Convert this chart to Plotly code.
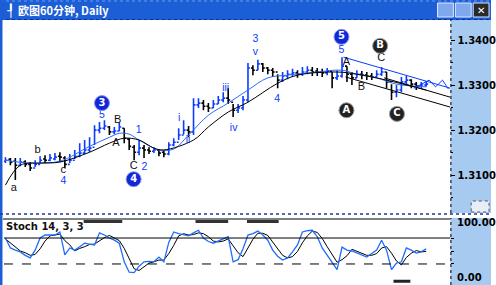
import plotly.graph_objects as go

# ---------------- data ----------------
bar_idx = list(range(86))
opens = [1.3131,1.3135,1.3131,1.3122,1.3129,1.3124,1.3116,1.3124,1.3136,1.3133,
         1.3136,1.3142,1.3138,1.3124,1.3133,1.3142,1.3149,1.3156,1.3162,1.3200,
         1.3204,1.3207,1.3196,1.3198,1.3204,1.3180,1.3162,1.3151,1.3160,1.3156,
         1.3153,1.3156,1.3151,1.3147,1.3167,1.3173,1.3189,1.3200,1.3196,1.3256,
         1.3260,1.3253,1.3249,1.3258,1.3267,1.3271,1.3262,1.3244,1.3249,1.3267,
         1.3338,1.3333,1.3347,1.3338,1.3333,1.3329,1.3311,1.3320,1.3324,1.3327,
         1.3324,1.3329,1.3333,1.3331,1.3329,1.3327,1.3331,1.3316,1.3320,1.3342,
         1.3324,1.3316,1.3324,1.3322,1.3320,1.3318,1.3324,1.3329,1.3307,1.3284,
         1.3289,1.3307,1.3311,1.3302,1.3298,1.3300]
highs = [1.3140,1.3138,1.3138,1.3138,1.3133,1.3129,1.3133,1.3142,1.3144,1.3147,
         1.3149,1.3151,1.3142,1.3147,1.3156,1.3171,1.3178,1.3184,1.3211,1.3218,
         1.3222,1.3209,1.3207,1.3218,1.3204,1.3182,1.3167,1.3178,1.3167,1.3162,
         1.3162,1.3158,1.3156,1.3173,1.3182,1.3204,1.3222,1.3209,1.3271,1.3271,
         1.3267,1.3260,1.3267,1.3276,1.3284,1.3293,1.3258,1.3258,1.3276,1.3349,
         1.3344,1.3356,1.3349,1.3340,1.3338,1.3324,1.3329,1.3333,1.3336,1.3333,
         1.3340,1.3342,1.3340,1.3338,1.3336,1.3338,1.3329,1.3333,1.3362,1.3342,
         1.3329,1.3333,1.3331,1.3329,1.3327,1.3333,1.3340,1.3329,1.3302,1.3300,
         1.3318,1.3320,1.3313,1.3307,1.3307,1.3309]
lows = [1.3127,1.3122,1.3089,1.3120,1.3118,1.3109,1.3118,1.3127,1.3127,1.3131,
        1.3133,1.3129,1.3116,1.3127,1.3136,1.3140,1.3147,1.3151,1.3167,1.3193,
        1.3200,1.3189,1.3191,1.3198,1.3171,1.3156,1.3133,1.3144,1.3138,1.3147,
        1.3149,1.3142,1.3140,1.3144,1.3164,1.3178,1.3191,1.3184,1.3189,1.3249,
        1.3244,1.3240,1.3249,1.3258,1.3262,1.3258,1.3229,1.3238,1.3244,1.3262,
        1.3322,1.3333,1.3329,1.3324,1.3318,1.3293,1.3307,1.3313,1.3318,1.3316,
        1.3320,1.3324,1.3320,1.3320,1.3318,1.3322,1.3293,1.3311,1.3316,1.3307,
        1.3300,1.3316,1.3313,1.3311,1.3311,1.3316,1.3320,1.3293,1.3267,1.3273,
        1.3284,1.3300,1.3293,1.3289,1.3293,1.3296]
closes = [1.3133,1.3129,1.3122,1.3129,1.3124,1.3116,1.3124,1.3133,1.3133,1.3138,
          1.3140,1.3140,1.3124,1.3133,1.3142,1.3149,1.3156,1.3160,1.3200,1.3204,
          1.3209,1.3196,1.3198,1.3207,1.3182,1.3164,1.3151,1.3160,1.3156,1.3153,
          1.3156,1.3149,1.3147,1.3167,1.3173,1.3189,1.3200,1.3196,1.3256,1.3260,
          1.3253,1.3249,1.3258,1.3267,1.3271,1.3267,1.3244,1.3249,1.3267,1.3338,
          1.3333,1.3347,1.3338,1.3333,1.3329,1.3311,1.3320,1.3324,1.3327,1.3324,
          1.3329,1.3333,1.3329,1.3329,1.3327,1.3331,1.3316,1.3320,1.3342,1.3324,
          1.3316,1.3324,1.3322,1.3320,1.3318,1.3324,1.3329,1.3307,1.3284,1.3289,
          1.3307,1.3311,1.3302,1.3298,1.3300,1.3302]

ma_fast_x = [0,5,11,17,21,23,25,27,31,34,37,41,45,49,53,57,63,68,71,75,79,85]
ma_fast_y = [1.3133,1.3127,1.3131,1.3164,1.3184,1.3193,1.3191,1.3178,1.3156,1.3158,
             1.3189,1.3233,1.3260,1.3289,1.3316,1.3322,1.3329,1.3333,1.3324,1.3316,
             1.3302,1.3296]
ma_slow_x = [0,3,7,11,17,21,24,27,30,32,38,41,45,49,55,59,67,71,77,85]
ma_slow_y = [1.3078,1.3122,1.3127,1.3129,1.3151,1.3171,1.3182,1.3178,1.3160,1.3156,
             1.3178,1.3207,1.3240,1.3262,1.3304,1.3322,1.3329,1.3324,1.3311,1.3289]

trend_upper_x = [68.3, 89.9]; trend_upper_y = [1.3362, 1.3293]
trend_lower_x = [68.7, 89.9]; trend_lower_y = [1.3318, 1.3251]
trend_mid_x = [76.5, 89.9];   trend_mid_y = [1.3316, 1.3273]
zigzag_x = [82.5, 85.6, 86.9, 88.3, 89.5]
zigzag_y = [1.3293, 1.3311, 1.3296, 1.3311, 1.3291]

blue_lbl_text = ["5","4","1","2","i","ii","iii","iv","3","v","4","5"]
blue_lbl_x = [19.5,11.7,26.9,28.1,35.1,36.9,44.5,46.1,50.5,50.5,54.9,67.9]
blue_lbl_y = [1.3233,1.3087,1.3200,1.3118,1.3227,1.3178,1.3293,1.3204,1.3402,1.3372,1.3269,1.3378]
black_lbl_text = ["a","b","c","B","A","C","A","B","C"]
black_lbl_x = [1.7,6.5,11.7,22.7,22.3,25.9,68.9,71.9,75.9]
black_lbl_y = [1.3071,1.3156,1.3111,1.3222,1.3171,1.3120,1.3351,1.3296,1.3360]
circ_blue_text = ["3","4","5"]
circ_blue_x = [19.5,25.9,67.9]
circ_blue_y = [1.3260,1.3091,1.3407]
circ_black_text = ["A","B","C"]
circ_black_x = [68.9,75.7,79.1]
circ_black_y = [1.3244,1.3387,1.3236]

stoch_k = [80,57,52,48,40,34,52,80,87,87,87,94,41,57,52,60,68,66,64,92,
           87,80,75,68,25,1,0,15,25,26,25,36,25,70,94,90,87,85,92,98,
           80,72,68,73,78,83,25,30,55,87,90,96,87,75,52,38,29,34,48,64,
           94,97,98,83,57,41,25,7,59,52,50,45,40,36,44,52,75,52,7,22,
           25,57,52,45,48,55]
stoch_d = [78,68,58,50,46,40,42,55,73,85,87,89,74,64,50,56,60,65,66,74,
           81,86,80,74,56,31,9,5,13,22,25,29,29,44,63,85,90,87,88,92,
           90,83,73,71,73,78,62,46,37,57,77,91,91,86,71,55,40,34,37,49,
           69,85,96,93,79,60,41,24,30,39,54,49,45,40,40,44,57,60,45,27,
           18,35,45,51,48,49]
ob_marks = [(15.8, 23.6), (38.4, 45.0), (48.8, 55.2)]
os_marks = [(78.4, 81.8)]

price_ticks = [1.31, 1.32, 1.33, 1.34]
price_tick_text = ["1.3100", "1.3200", "1.3300", "1.3400"]

# ---------------- figure ----------------
W, H = 496, 285
def px(x): return x / W
def py(y): return 1 - y / H

BLUE = "#0a3cff"
fig = go.Figure()
fig.add_trace(go.Ohlc(x=bar_idx, open=opens, high=highs, low=lows, close=closes,
                      increasing=dict(line=dict(color=BLUE, width=1.6)),
                      decreasing=dict(line=dict(color="#000000", width=1.6)),
                      tickwidth=0.4, xaxis="x", yaxis="y", showlegend=False, hoverinfo="skip"))
fig.add_trace(go.Scatter(x=ma_fast_x, y=ma_fast_y, mode="lines", line=dict(color="#2a6cff", width=1),
                         line_shape="spline", xaxis="x", yaxis="y", showlegend=False))
fig.add_trace(go.Scatter(x=ma_slow_x, y=ma_slow_y, mode="lines", line=dict(color="#000000", width=1),
                         line_shape="spline", xaxis="x", yaxis="y", showlegend=False))
for tx, ty, c in [(trend_upper_x, trend_upper_y, BLUE), (trend_lower_x, trend_lower_y, "#000"),
                  (trend_mid_x, trend_mid_y, "#000"), (zigzag_x, zigzag_y, BLUE)]:
    fig.add_trace(go.Scatter(x=tx, y=ty, mode="lines", line=dict(color=c, width=1),
                             xaxis="x", yaxis="y", showlegend=False))

fig.add_trace(go.Scatter(x=blue_lbl_x, y=blue_lbl_y, mode="text", text=blue_lbl_text,
                         textfont=dict(family="Liberation Sans", size=10.5, color=BLUE),
                         xaxis="x", yaxis="y", showlegend=False))
fig.add_trace(go.Scatter(x=black_lbl_x, y=black_lbl_y, mode="text", text=black_lbl_text,
                         textfont=dict(family="Liberation Sans", size=11, color="#111"),
                         xaxis="x", yaxis="y", showlegend=False))
fig.add_trace(go.Scatter(x=circ_blue_x, y=circ_blue_y, mode="markers+text", text=circ_blue_text,
                         marker=dict(size=15, color="#1028d8", line=dict(color="#8899ee", width=1)),
                         textfont=dict(family="DejaVu Sans", size=10, color="white", weight="bold"),
                         textposition="middle center", xaxis="x", yaxis="y", showlegend=False))
fig.add_trace(go.Scatter(x=circ_black_x, y=circ_black_y, mode="markers+text", text=circ_black_text,
                         marker=dict(size=15, color="#222222", line=dict(color="#999999", width=1)),
                         textfont=dict(family="DejaVu Sans", size=10, color="white", weight="bold"),
                         textposition="middle center", xaxis="x", yaxis="y", showlegend=False))

# stochastic
fig.add_trace(go.Scatter(x=bar_idx, y=stoch_d, mode="lines", line=dict(color="#000", width=1),
                         xaxis="x2", yaxis="y2", showlegend=False))
fig.add_trace(go.Scatter(x=bar_idx, y=stoch_k, mode="lines", line=dict(color="#1e6cff", width=1.3),
                         xaxis="x2", yaxis="y2", showlegend=False))
for a, b in ob_marks:
    fig.add_trace(go.Scatter(x=[a, b], y=[118, 118], mode="lines", line=dict(color="#333", width=3),
                             xaxis="x2", yaxis="y2", showlegend=False))
for a, b in os_marks:
    fig.add_trace(go.Scatter(x=[a, b], y=[-20, -20], mode="lines", line=dict(color="#222", width=3),
                             xaxis="x2", yaxis="y2", showlegend=False))

xdom = [px(4), px(455)]
fig.update_layout(
    width=W, height=H, margin=dict(l=0, r=0, t=0, b=0),
    paper_bgcolor="white", plot_bgcolor="white", showlegend=False,
    xaxis=dict(domain=xdom, range=[-0.3, 89.9], showgrid=False, zeroline=False,
               showticklabels=False, rangeslider=dict(visible=False), anchor="y", fixedrange=True),
    yaxis=dict(domain=[py(213), py(22)], range=[1.3016, 1.3440], side="right", anchor="x",
               tickvals=price_ticks, ticktext=price_tick_text, ticks="outside", ticklen=4,
               tickcolor="#000", showgrid=False, zeroline=False,
               tickfont=dict(family="DejaVu Sans", size=10, color="#000", weight="bold"),
               minor=dict(dtick=0.005, ticks="outside", ticklen=2, tickcolor="#000")),
    xaxis2=dict(domain=xdom, range=[-0.3, 89.9], showgrid=False, zeroline=False,
                showticklabels=False, anchor="y2"),
    yaxis2=dict(domain=[py(283), py(219)], range=[-24, 124], side="right", anchor="x2",
                tickvals=[20, 50, 80], ticks="outside", ticklen=3, tickcolor="#000",
                showticklabels=False, showgrid=False, zeroline=False),
)

shapes = []
shapes.append(dict(type="rect", xref="paper", yref="paper", x0=0, x1=1, y0=py(20), y1=1,
                   fillcolor="#1b5ed5", line=dict(width=0), layer="below"))
shapes.append(dict(type="line", xref="paper", yref="paper", x0=0, x1=1, y0=py(1), y1=py(1),
                   line=dict(color="#6d9cf0", width=1, dash="dot")))
shapes.append(dict(type="line", xref="paper", yref="paper", x0=0, x1=1, y0=py(19.5), y1=py(19.5),
                   line=dict(color="#0a2f9a", width=1, dash="dot")))
shapes.append(dict(type="rect", xref="paper", yref="paper", x0=0, x1=px(2.5), y0=0, y1=1,
                   fillcolor="#1b5ed5", line=dict(width=0)))
shapes.append(dict(type="rect", xref="paper", yref="paper", x0=px(455), x1=1, y0=py(213), y1=py(20),
                   fillcolor="#a6caf0", line=dict(width=0), layer="below"))
shapes.append(dict(type="rect", xref="paper", yref="paper", x0=px(455), x1=1, y0=0, y1=py(218),
                   fillcolor="#a6caf0", line=dict(width=0), layer="below"))
for y0, y1 in [(20, 213), (218, 285)]:
    shapes.append(dict(type="line", xref="paper", yref="paper", x0=px(455.5), x1=px(455.5),
                       y0=py(y1), y1=py(y0), line=dict(color="#000", width=1, dash="dot")))
shapes.append(dict(type="line", xref="paper", yref="paper", x0=0, x1=1, y0=py(214), y1=py(214),
                   line=dict(color="#1b3a9a", width=1.5, dash="dot")))
shapes.append(dict(type="line", xref="paper", yref="paper", x0=px(3), x1=px(455), y0=py(219), y1=py(219),
                   line=dict(color="#000", width=1)))
shapes.append(dict(type="line", xref="x2", yref="y2", x0=-0.3, x1=89.9, y0=80, y1=80,
                   line=dict(color="#000", width=1)))
shapes.append(dict(type="line", xref="x2", yref="y2", x0=-0.3, x1=89.9, y0=20, y1=20,
                   line=dict(color="#000", width=1, dash="dash")))
shapes.append(dict(type="rect", xref="paper", yref="paper", x0=px(476), x1=px(494), y0=py(212), y1=py(201),
                   fillcolor="#e8eef8", line=dict(color="#556", width=1, dash="dot")))
for x0, x1, fc in [(442, 458, "#7fa8ee"), (460, 476, "#7fa8ee"), (478, 494, "#2a2a2a")]:
    shapes.append(dict(type="rect", xref="paper", yref="paper", x0=px(x0), x1=px(x1), y0=py(17), y1=py(3),
                       fillcolor=fc, line=dict(color="#dfe8ff", width=1)))
fig.update_layout(shapes=shapes)

ann = [
    dict(text="欧图60分钟, Daily", x=px(16), y=py(10), xref="paper", yref="paper", xanchor="left",
         yanchor="middle", showarrow=False,
         font=dict(family="Noto Sans CJK SC", size=11, color="white", weight="bold")),
    dict(text="┦", x=px(5), y=py(10), xref="paper", yref="paper", xanchor="left", yanchor="middle",
         showarrow=False, font=dict(family="DejaVu Sans", size=12, color="white", weight="bold")),
    dict(text="✕", x=px(486), y=py(10), xref="paper", yref="paper", xanchor="center", yanchor="middle",
         showarrow=False, font=dict(family="DejaVu Sans", size=10, color="white", weight="bold")),
    dict(text="Stoch 14, 3, 3", x=px(4), y=py(226), xref="paper", yref="paper", xanchor="left",
         yanchor="middle", showarrow=False,
         font=dict(family="DejaVu Sans", size=10, color="#111", weight="bold")),
    dict(text="100.00", x=px(460), y=py(222), xref="paper", yref="paper", xanchor="left",
         yanchor="middle", showarrow=False,
         font=dict(family="DejaVu Sans", size=10, color="#000", weight="bold")),
    dict(text="0.00", x=px(460), y=py(277), xref="paper", yref="paper", xanchor="left",
         yanchor="middle", showarrow=False,
         font=dict(family="DejaVu Sans", size=10, color="#000", weight="bold")),
]
fig.update_layout(annotations=ann)

fig.write_html("out.html")
